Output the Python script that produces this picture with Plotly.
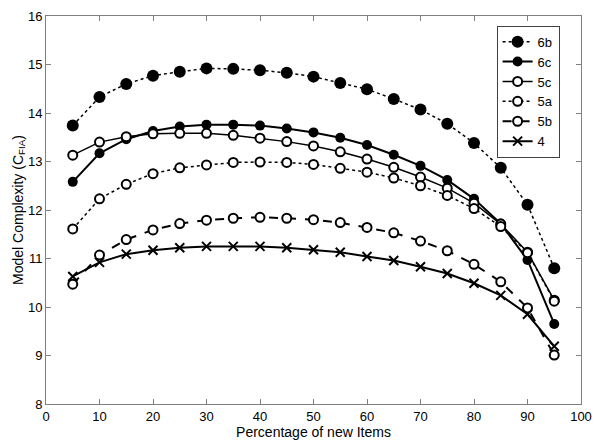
import plotly.graph_objects as go

pct_new = [5, 10, 15, 20, 25, 30, 35, 40, 45, 50, 55, 60, 65, 70, 75, 80, 85, 90, 95]

model_6b = [13.74, 14.33, 14.60, 14.77, 14.85, 14.92, 14.91, 14.88, 14.83, 14.75,
            14.62, 14.49, 14.29, 14.07, 13.78, 13.38, 12.87, 12.11, 10.80]
model_6c = [12.58, 13.17, 13.46, 13.63, 13.72, 13.76, 13.76, 13.74, 13.68, 13.60,
            13.49, 13.34, 13.14, 12.91, 12.62, 12.23, 11.72, 10.97, 9.65]
model_5c = [13.13, 13.40, 13.51, 13.57, 13.58, 13.58, 13.54, 13.48, 13.41, 13.32,
            13.20, 13.05, 12.88, 12.68, 12.45, 12.14, 11.71, 11.13, 10.14]
model_5a = [11.61, 12.23, 12.53, 12.75, 12.87, 12.93, 12.98, 12.99, 12.98, 12.94,
            12.86, 12.78, 12.66, 12.50, 12.30, 12.03, 11.66, 11.12, 10.12]
model_5b = [10.47, 11.07, 11.39, 11.59, 11.72, 11.79, 11.83, 11.85, 11.83, 11.80,
            11.74, 11.64, 11.53, 11.36, 11.16, 10.88, 10.52, 9.98, 9.01]
model_4 = [10.63, 10.92, 11.09, 11.17, 11.22, 11.25, 11.25, 11.25, 11.22, 11.18,
           11.13, 11.04, 10.96, 10.83, 10.69, 10.49, 10.24, 9.85, 9.19]

fig = go.Figure()

# name, values, dash, line width, marker kind, marker size
series = [
    ("6b", model_6b, "dot", 1.5, "filled", 12),
    ("6c", model_6c, "solid", 2, "filled", 10),
    ("5c", model_5c, "solid", 1.5, "open", 9),
    ("5a", model_5a, "dot", 1.5, "open", 9),
    ("5b", model_5b, "dash", 2, "open", 9),
    ("4", model_4, "solid", 2, "x", 9),
]

for name, vals, dash, lw, kind, size in series:
    if kind == "open":
        marker = dict(symbol="circle", size=size, color="white",
                      line=dict(color="black", width=2))
    elif kind == "x":
        marker = dict(symbol="x-thin-open", size=size, color="black",
                      line=dict(color="black", width=2))
    else:
        marker = dict(symbol="circle", size=size, color="black",
                      line=dict(color="black", width=0))
    fig.add_trace(go.Scatter(
        x=pct_new, y=vals, name=name, mode="lines+markers",
        line=dict(color="black", width=lw, dash=dash),
        marker=marker,
    ))

font_family = "Liberation Sans, Arial"
axis_style = dict(
    showline=True, linecolor="#808080", linewidth=1, mirror="ticks",
    ticks="inside", ticklen=5, tickcolor="#808080",
    showgrid=False, zeroline=False,
    tickfont=dict(family=font_family, size=13, color="black"),
)

fig.update_xaxes(range=[0, 100], dtick=10, title_text="Percentage of new Items",
                 title_font=dict(family=font_family, size=14, color="black"),
                 title_standoff=2, **axis_style)
fig.update_yaxes(range=[8, 16], dtick=1, title_text="Model Complexity (C<sub>FIA</sub>)",
                 title_font=dict(family=font_family, size=14, color="black"),
                 title_standoff=1, **axis_style)

fig.update_layout(
    width=601, height=444,
    margin=dict(l=46, r=12, t=9, b=35),
    plot_bgcolor="white", paper_bgcolor="white",
    legend=dict(x=0.96, y=0.975, xanchor="right", yanchor="top",
                bordercolor="#404040", borderwidth=1, bgcolor="white",
                font=dict(family=font_family, size=13, color="black"),
                tracegroupgap=0, itemwidth=30),
)

fig.write_html("out.html", config={"displayModeBar": False},
               post_script="document.body.style.margin='0';")
